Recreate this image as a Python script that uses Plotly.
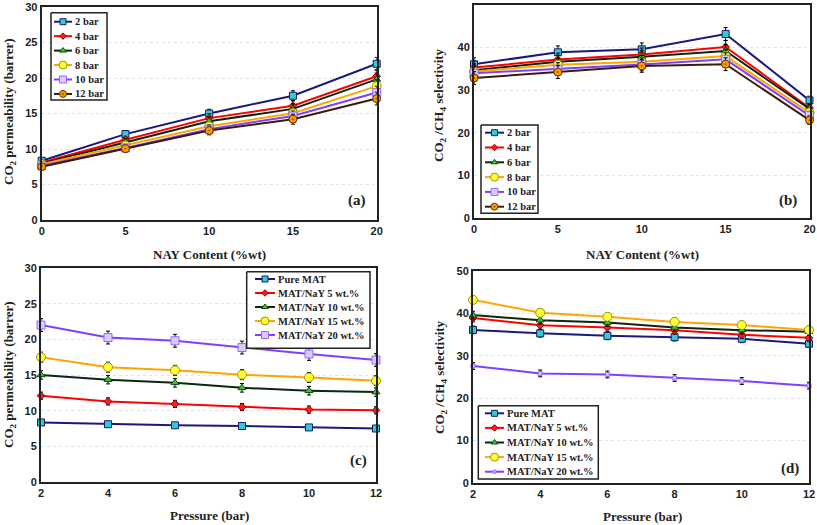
import plotly.graph_objects as go

# ---------------- data ----------------
pressures = [2, 4, 6, 8, 10, 12]
nay_content = [0, 5, 10, 15, 20]
loading_names = ["Pure MAT", "MAT/NaY 5 wt.%", "MAT/NaY 10 wt.%", "MAT/NaY 15 wt.%", "MAT/NaY 20 wt.%"]
pressure_names = ["2 bar", "4 bar", "6 bar", "8 bar", "10 bar", "12 bar"]

# CO2 permeability (barrer) per NaY loading, across pressures 2..12 bar
perm_pure = [8.35, 8.1, 7.95, 7.85, 7.65, 7.5]
perm_5 = [12.1, 11.3, 10.95, 10.5, 10.15, 10.05]
perm_10 = [15.0, 14.35, 13.9, 13.2, 12.8, 12.6]
perm_15 = [17.5, 16.1, 15.65, 15.05, 14.65, 14.2]
perm_20 = [22.0, 20.25, 19.8, 18.85, 17.95, 17.1]
perm_err = [0.35, 0.5, 0.6, 0.7, 0.9]

# CO2/CH4 selectivity per NaY loading, across pressures 2..12 bar
sel_pure = [36.1, 35.3, 34.7, 34.4, 34.0, 32.85]
sel_5 = [38.9, 37.2, 36.7, 36.0, 34.95, 34.25]
sel_10 = [39.6, 38.4, 37.85, 36.65, 36.05, 35.7]
sel_15 = [43.2, 40.15, 39.2, 38.0, 37.25, 36.1]
sel_20 = [27.6, 25.85, 25.6, 24.75, 24.05, 22.95]
sel_err_b = [1.5, 1.5, 1.5, 1.5, 1.0]
sel_err_d = [0.9, 0.9, 0.9, 0.9, 0.8]

perm_by_loading = [perm_pure, perm_5, perm_10, perm_15, perm_20]
sel_by_loading = [sel_pure, sel_5, sel_10, sel_15, sel_20]

# ---------------- styles ----------------
line_colors = ["#1a1a7a", "#ff0000", "#0d260d", "#ffa500", "#7f3fff", "#3b1c0c"]
marker_symbols = ["square", "diamond", "triangle-up", "circle", "square", "circle-dot"]
marker_fills = ["#33cccc", "#ff1a1a", "#33cc33", "#ffff33", "#d6ccff", "#ff9900"]
marker_lines = ["#1a1a7a", "#990000", "#0d4d0d", "#999900", "#9966ff", "#663300"]
marker_sizes = [7, 6, 7, 9, 8, 8]

SERIF = "Liberation Serif"
SANS = "Liberation Sans"
W, H = 817, 525

fig = go.Figure()

def add_series(x, y, err, i, xa, ya, name, size=None):
    fig.add_trace(go.Scatter(
        x=x, y=y, name=name, mode="lines+markers", showlegend=False,
        xaxis=xa, yaxis=ya, cliponaxis=False,
        line=dict(color=line_colors[i], width=2),
        marker=dict(symbol=marker_symbols[i], size=size or marker_sizes[i],
                    color=marker_fills[i], line=dict(color=marker_lines[i], width=1)),
        error_y=dict(type="data", array=err, color="black", thickness=1, width=2),
    ))

# (a) permeability vs NaY content, one series per pressure
for p in range(len(pressures)):
    ys = [perm_by_loading[k][p] for k in range(len(nay_content))]
    add_series(nay_content, ys, perm_err, p, "x", "y", pressure_names[p])

# (b) selectivity vs NaY content, one series per pressure
for p in range(len(pressures)):
    ys = [sel_by_loading[k][p] for k in range(len(nay_content))]
    add_series(nay_content, ys, sel_err_b, p, "x2", "y2", pressure_names[p])

# (c) permeability vs pressure, one series per loading
for k in range(len(loading_names)):
    add_series(pressures, perm_by_loading[k], [perm_err[k]] * len(pressures), k,
               "x3", "y3", loading_names[k])

# (d) selectivity vs pressure, one series per loading
for k in range(len(loading_names)):
    add_series(pressures, sel_by_loading[k], [sel_err_d[k]] * len(pressures), k,
               "x4", "y4", loading_names[k], size=(4 if k == 4 else None))

# ---------------- compact legends (drawn on a hidden pixel-space overlay axis) ----------------
# (box x0, x1, y0, y1, key x0, key x1, text x, first row y, row step, names, small last marker)
legend_specs = [
    (51, 107, 12.7, 100, 54, 72, 73, 21.7, 14.45, pressure_names, False),
    (481, 538, 125, 213.3, 485, 504, 505, 132.7, 14.8, pressure_names, False),
    (246.7, 370, 271.7, 348.3, 255, 275, 276, 279, 14.0, loading_names, False),
    (478.3, 598.3, 405.7, 479, 485, 504, 505, 413.3, 14.6, loading_names, True),
]
legend_font = dict(family=SERIF, size=10.5, color="#222", weight="bold")
for bx0, bx1, by0, by1, kx0, kx1, tx, ry0, step, names, small_last in legend_specs:
    fig.add_trace(go.Scatter(
        x=[bx0, bx1, bx1, bx0, bx0], y=[by0, by0, by1, by1, by0], mode="lines",
        fill="toself", fillcolor="white", line=dict(color="#222", width=1.5),
        xaxis="x5", yaxis="y5", showlegend=False, hoverinfo="skip"))
    for i, nm in enumerate(names):
        ry = ry0 + i * step
        fig.add_trace(go.Scatter(
            x=[kx0, kx1], y=[ry, ry], mode="lines", line=dict(color=line_colors[i], width=2),
            xaxis="x5", yaxis="y5", showlegend=False, hoverinfo="skip"))
        sz = 3 if (small_last and i == len(names) - 1) else max(marker_sizes[i] - 1, 5)
        fig.add_trace(go.Scatter(
            x=[(kx0 + kx1) / 2], y=[ry], mode="markers",
            marker=dict(symbol=marker_symbols[i], size=sz, color=marker_fills[i],
                        line=dict(color=marker_lines[i], width=1)),
            xaxis="x5", yaxis="y5", showlegend=False, hoverinfo="skip"))
        fig.add_annotation(text=nm, x=tx, y=ry, xref="x5", yref="y5", showarrow=False,
                           xanchor="left", yanchor="middle", font=legend_font)

def px(v): return v / W
def py(v): return 1 - v / H

tickfont = dict(family=SANS, size=11, color="#222", weight="bold")
axis_common = dict(showline=True, linecolor="#222", linewidth=2, mirror=True,
                   ticks="", tickfont=tickfont, zeroline=False, automargin=False)
grid = dict(showgrid=True, gridcolor="#dfe4ee", griddash="dot", gridwidth=1)

fig.update_layout(
    width=W, height=H, margin=dict(l=0, r=0, t=0, b=0, pad=0, autoexpand=False),
    paper_bgcolor="white", plot_bgcolor="rgba(0,0,0,0)", showlegend=False,
    xaxis=dict(domain=[px(41.7), px(376.7)], range=[0, 20], tickvals=nay_content,
               anchor="y", showgrid=False, **axis_common),
    yaxis=dict(domain=[py(220), py(7)], range=[0, 30], dtick=5, anchor="x", **grid, **axis_common),
    xaxis2=dict(domain=[px(474), px(809.5)], range=[0, 20], tickvals=nay_content,
                anchor="y2", showgrid=False, **axis_common),
    yaxis2=dict(domain=[py(218), py(5)], range=[0, 50], dtick=10, anchor="x2", **grid, **axis_common),
    xaxis3=dict(domain=[px(41), px(376)], range=[2, 12], tickvals=pressures,
                anchor="y3", showgrid=False, **axis_common),
    yaxis3=dict(domain=[py(482), py(268)], range=[0, 30], dtick=5, anchor="x3", **grid, **axis_common),
    xaxis4=dict(domain=[px(473), px(809)], range=[2, 12], tickvals=pressures,
                anchor="y4", showgrid=False, **axis_common),
    yaxis4=dict(domain=[py(483), py(271)], range=[0, 50], dtick=10, anchor="x4", **grid, **axis_common),
    xaxis5=dict(domain=[0, 1], range=[0, W], visible=False, fixedrange=True, anchor="y5"),
    yaxis5=dict(domain=[0, 1], range=[H, 0], visible=False, fixedrange=True, anchor="x5"),
)

title_font = dict(family=SERIF, size=13, color="#222", weight="bold")
label_font = dict(family=SERIF, size=15, color="#222", weight="bold")
annos = [
    ("NAY Content (%wt)", 209, 254, 0, title_font),
    ("NAY Content (%wt)", 642, 254, 0, title_font),
    ("Pressure (bar)", 209, 515, 0, title_font),
    ("Pressure (bar)", 642, 516, 0, title_font),
    ("CO<sub>2</sub> permeability (barrer)", 9, 112, -90, title_font),
    ("CO<sub>2</sub> /CH<sub>4</sub> selectivity", 440, 105, -90, title_font),
    ("CO<sub>2</sub> permeability (barrer)", 9, 375, -90, title_font),
    ("CO<sub>2</sub> /CH<sub>4</sub> selectivity", 440, 377, -90, title_font),
    ("(a)", 357, 200, 0, label_font),
    ("(b)", 788, 200, 0, label_font),
    ("(c)", 358, 460, 0, label_font),
    ("(d)", 790, 468, 0, label_font),
]
for text, x, y, ang, f in annos:
    fig.add_annotation(text=text, x=px(x), y=py(y), xref="paper", yref="paper",
                       showarrow=False, textangle=ang, font=f,
                       xanchor="center", yanchor="middle")

fig.write_html("out.html", config={"displayModeBar": False},
               post_script="document.body.style.margin='0';document.body.style.overflow='hidden';")
